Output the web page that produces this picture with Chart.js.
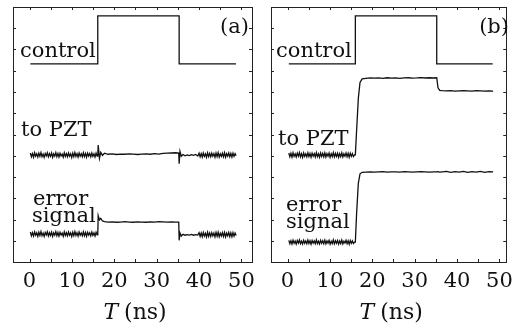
<!DOCTYPE html>
<html><head><meta charset="utf-8">
<script src="https://cdn.jsdelivr.net/npm/chart.js@4"></script>
<style>
html,body{margin:0;padding:0;background:#fff;}
#wrap{position:relative;width:520px;height:326px;}
#chartA{position:absolute;left:0;top:0;}
#chartB{position:absolute;left:262px;top:0;}
</style></head><body>
<div id="wrap">
<canvas id="chartA" width="262" height="326"></canvas>
<canvas id="chartB" width="258" height="326"></canvas>
</div>
<script>
// ---------- data (y in arbitrary offset units, x in ns) ----------
const xTickLabels = [0, 10, 20, 30, 40, 50];
const xMinorTicks = [0, 5, 10, 15, 20, 25, 30, 35, 40, 45, 50];
const yMinorTicks = [1, 2, 3, 4, 5, 6, 7, 8, 9, 10, 11];

// Panel (a)
const ctrlA_t = [0.2, 16.1, 16.1, 35.3, 35.3, 48.7];
const ctrlA_v = [9.32, 9.32, 11.58, 11.58, 9.32, 9.32];
const tA = [0.20,0.45,0.70,0.95,1.20,1.45,1.70,1.95,2.20,2.45,2.70,2.95,3.20,3.45,3.70,3.95,4.20,4.45,4.70,4.95,5.20,5.45,5.70,5.95,6.20,6.45,6.70,6.95,7.20,7.45,7.70,7.95,
  8.20,8.45,8.70,8.95,9.20,9.45,9.70,9.95,10.20,10.45,10.70,10.95,11.20,11.45,11.70,11.95,12.20,12.45,12.70,12.95,13.20,13.45,13.70,13.95,14.20,14.45,14.70,14.95,15.20,15.45,15.70,15.95,
  16.1,16.2,16.5,16.8,17.2,17.7,
  18.5,19.5,20.5,21.5,22.5,23.5,24.5,25.5,26.5,27.5,28.5,29.5,30.5,31.5,32.5,33.5,34.5,
  35.2,35.3,35.5,35.8,
  36.2,36.7,37.2,37.7,38.2,38.7,39.2,39.7,
  40.00,40.25,40.50,40.75,41.00,41.25,41.50,41.75,42.00,42.25,42.50,42.75,43.00,43.25,43.50,43.75,44.00,44.25,
  44.50,44.75,45.00,45.25,45.50,45.75,46.00,46.25,46.50,46.75,47.00,47.25,47.50,47.75,48.00,48.25,48.50,48.75];
const pztA = [5.13,4.95,5.10,4.93,5.14,4.98,5.09,4.94,5.12,4.97,5.15,4.96,5.08,4.92,5.11,4.99,5.14,4.95,5.10,4.97,5.13,4.93,5.09,4.98,5.15,4.96,5.11,4.94,5.12,4.99,5.08,4.93,
  5.14,4.97,5.10,4.95,5.13,4.98,5.09,4.92,5.12,4.96,5.15,4.97,5.10,4.94,5.13,4.98,5.09,4.95,5.14,4.96,5.11,4.93,5.12,4.99,5.10,4.95,5.13,4.97,5.09,4.94,5.12,4.98,
  5.04,5.50,4.88,5.16,5.02,5.12,
  5.07,5.09,5.06,5.08,5.07,5.09,5.08,5.06,5.08,5.09,5.07,5.10,5.08,5.11,5.12,5.13,5.14,
  5.13,4.62,5.20,4.98,
  5.06,5.00,5.04,5.01,5.05,5.02,5.06,4.99,
  5.12,4.95,5.10,4.94,5.13,4.97,5.09,4.93,5.14,4.96,5.11,4.95,5.12,4.98,5.10,4.93,5.13,4.96,
  5.15,4.94,5.09,4.97,5.12,4.95,5.14,4.93,5.10,4.98,5.13,4.95,5.11,4.94,5.12,4.97,5.10,5.00];
const errA = [1.41,1.23,1.38,1.22,1.42,1.26,1.37,1.21,1.40,1.25,1.43,1.24,1.36,1.20,1.39,1.27,1.42,1.23,1.38,1.25,1.41,1.21,1.37,1.26,1.43,1.24,1.39,1.22,1.40,1.27,1.36,1.21,
  1.42,1.25,1.38,1.23,1.41,1.26,1.37,1.20,1.40,1.24,1.43,1.25,1.38,1.22,1.41,1.26,1.37,1.23,1.42,1.24,1.39,1.21,1.40,1.27,1.38,1.23,1.41,1.25,1.37,1.22,1.40,1.28,
  1.32,2.18,1.98,2.05,1.93,1.90,
  1.88,1.89,1.87,1.88,1.90,1.88,1.87,1.89,1.88,1.87,1.89,1.88,1.90,1.89,1.88,1.89,1.88,
  1.88,1.02,1.36,1.22,
  1.30,1.26,1.29,1.27,1.30,1.26,1.29,1.27,
  1.38,1.20,1.36,1.19,1.39,1.22,1.35,1.18,1.40,1.21,1.37,1.20,1.38,1.23,1.36,1.18,1.39,1.21,
  1.40,1.19,1.35,1.22,1.38,1.20,1.39,1.18,1.36,1.23,1.39,1.20,1.37,1.19,1.38,1.22,1.36,1.25];

// Panel (b)
const ctrlB_t = [0.3, 16.0, 16.0, 35.2, 35.2, 48.4];
const ctrlB_v = [9.32, 9.32, 11.58, 11.58, 9.32, 9.32];
const tB = [0.30,0.55,0.80,1.05,1.30,1.55,1.80,2.05,2.30,2.55,2.80,3.05,3.30,3.55,3.80,4.05,4.30,4.55,4.80,5.05,5.30,5.55,5.80,6.05,6.30,6.55,6.80,7.05,7.30,7.55,7.80,8.05,
  8.30,8.55,8.80,9.05,9.30,9.55,9.80,10.05,10.30,10.55,10.80,11.05,11.30,11.55,11.80,12.05,12.30,12.55,12.80,13.05,13.30,13.55,13.80,14.05,14.30,14.55,14.80,15.05,15.30,15.55,15.80,
  16.0,16.3,16.7,17.1,17.6,
  18.5,19.5,20.5,21.5,22.5,23.5,24.5,25.5,26.5,27.5,28.5,29.5,30.5,31.5,32.5,33.5,34.5,
  35.2,35.5,35.9,
  36.5,37.5,38.5,39.5,40.5,41.5,42.5,43.5,44.5,45.5,46.5,47.5,48.5];
const pztB = [5.13,4.95,5.11,4.93,5.14,4.97,5.09,4.94,5.12,4.98,5.15,4.95,5.10,4.92,5.13,4.97,5.09,4.95,5.14,4.96,5.11,4.93,5.12,4.98,5.10,4.94,5.15,4.96,5.09,4.93,5.13,4.97,
  5.11,4.95,5.14,4.94,5.10,4.98,5.13,4.93,5.09,4.96,5.15,4.95,5.11,4.97,5.12,4.93,5.10,4.96,5.14,4.94,5.09,4.98,5.13,4.95,5.11,4.93,5.12,4.97,5.10,4.96,5.04,
  5.04,6.20,7.70,8.45,8.62,
  8.64,8.66,8.65,8.66,8.64,8.67,8.65,8.66,8.64,8.66,8.67,8.65,8.66,8.68,8.66,8.67,8.66,
  8.67,8.20,8.08,
  8.06,8.05,8.06,8.04,8.05,8.06,8.05,8.04,8.06,8.05,8.04,8.05,8.04];
const errB = [1.02,0.86,1.00,0.85,1.03,0.88,0.99,0.84,1.01,0.89,1.04,0.87,0.98,0.85,1.02,0.88,0.99,0.86,1.03,0.87,1.00,0.84,1.01,0.89,0.99,0.86,1.04,0.87,0.98,0.85,1.02,0.88,
  1.00,0.86,1.03,0.85,0.99,0.89,1.02,0.84,0.98,0.87,1.04,0.86,1.00,0.88,1.01,0.84,0.99,0.87,1.03,0.85,0.98,0.89,1.02,0.86,1.00,0.84,1.01,0.88,0.99,0.87,0.94,
  0.94,2.30,3.70,4.15,4.22,
  4.23,4.24,4.23,4.24,4.25,4.23,4.24,4.24,4.23,4.25,4.24,4.23,4.24,4.25,4.24,4.23,4.24,
  4.24,4.25,4.23,
  4.24,4.26,4.22,4.25,4.23,4.26,4.22,4.25,4.23,4.26,4.22,4.25,4.24];

const seriesNames = ['control', 'to PZT', 'error', 'signal'];
const panelTags = ['(a)', '(b)'];

// ---------- drawing ----------
const SERIF = '"DejaVu Serif", "Liberation Serif", serif';
const pts = (t, v) => t.map((x, i) => ({x: x, y: v[i]}));

const framePlugin = {
  id: 'frame',
  afterDraw(chart, args, opts) {
    const ctx = chart.ctx, a = chart.chartArea, x = chart.scales.x, y = chart.scales.y;
    ctx.save();
    ctx.strokeStyle = '#222';
    ctx.lineWidth = 1;
    ctx.strokeRect(Math.round(a.left) + 0.5, Math.round(a.top) + 0.5,
                   Math.round(a.right - a.left), Math.round(a.bottom - a.top));
    ctx.beginPath();
    xMinorTicks.forEach(v => {
      const px = Math.round(x.getPixelForValue(v)) + 0.5;
      ctx.moveTo(px, a.bottom); ctx.lineTo(px, a.bottom - 3);
      ctx.moveTo(px, a.top); ctx.lineTo(px, a.top + 3);
    });
    yMinorTicks.forEach(v => {
      const py = Math.round(y.getPixelForValue(v)) + 0.5;
      ctx.moveTo(a.left, py); ctx.lineTo(a.left + 3, py);
      ctx.moveTo(a.right, py); ctx.lineTo(a.right - 3, py);
    });
    ctx.stroke();

    ctx.fillStyle = '#111';
    ctx.textBaseline = 'alphabetic';
    ctx.font = '21px ' + SERIF;
    opts.labels.forEach(l => {
      ctx.textAlign = l.align || 'left';
      ctx.fillText(l.text, l.x, l.y);
    });

    // axis title: italic T + (ns)
    ctx.textAlign = 'left';
    const fI = 'italic 22px ' + SERIF, fN = '22px ' + SERIF;
    ctx.font = fI; const wT = ctx.measureText('T').width;
    ctx.font = fN; const wR = ctx.measureText(' (ns)').width;
    const cx = (a.left + a.right) / 2 + opts.titleShift;
    const x0 = cx - (wT + wR) / 2;
    ctx.font = fI; ctx.fillText('T', x0, opts.titleY);
    ctx.font = fN; ctx.fillText(' (ns)', x0 + wT - 1, opts.titleY);
    ctx.restore();
  }
};

function makeChart(id, xmin, xmax, padL, padR, datasets, labels, titleShift) {
  return new Chart(document.getElementById(id), {
    type: 'line',
    data: {datasets: datasets.map(d => ({
      data: d, borderColor: '#111', borderWidth: 1.3, pointRadius: 0,
      tension: 0, fill: false
    }))},
    options: {
      responsive: false,
      animation: false,
      layout: {padding: {left: padL, right: padR, top: 7, bottom: 0}},
      plugins: {
        legend: {display: false},
        tooltip: {enabled: false},
        frame: {labels: labels, titleShift: titleShift, titleY: 319}
      },
      scales: {
        x: {
          type: 'linear', min: xmin, max: xmax,
          afterBuildTicks: s => { s.ticks = xTickLabels.map(v => ({value: v})); },
          afterFit: s => { s.height = 64; },
          grid: {display: false, drawTicks: false},
          border: {display: false},
          ticks: {font: {family: SERIF, size: 21}, color: '#111', padding: 7,
                  maxRotation: 0, autoSkip: false}
        },
        y: {min: 0, max: 12, display: false}
      }
    },
    plugins: [framePlugin]
  });
}

makeChart('chartA', -3.9, 52.5, 13, 4,
  [pts(ctrlA_t, ctrlA_v), pts(tA, pztA), pts(tA, errA)],
  [
    {text: seriesNames[0], x: 20, y: 57},
    {text: seriesNames[1], x: 21, y: 136},
    {text: seriesNames[2], x: 33, y: 205},
    {text: seriesNames[3], x: 32, y: 222},
    {text: panelTags[0], x: 249, y: 33, align: 'right'}
  ], 3);

makeChart('chartB', -3.9, 51.6, 9, 6,
  [pts(ctrlB_t, ctrlB_v), pts(tB, pztB), pts(tB, errB)],
  [
    {text: seriesNames[0], x: 14, y: 57},
    {text: seriesNames[1], x: 16, y: 145},
    {text: seriesNames[2], x: 24, y: 211},
    {text: seriesNames[3], x: 24, y: 228},
    {text: panelTags[1], x: 247, y: 33, align: 'right'}
  ], 3);
</script>
</body></html>
